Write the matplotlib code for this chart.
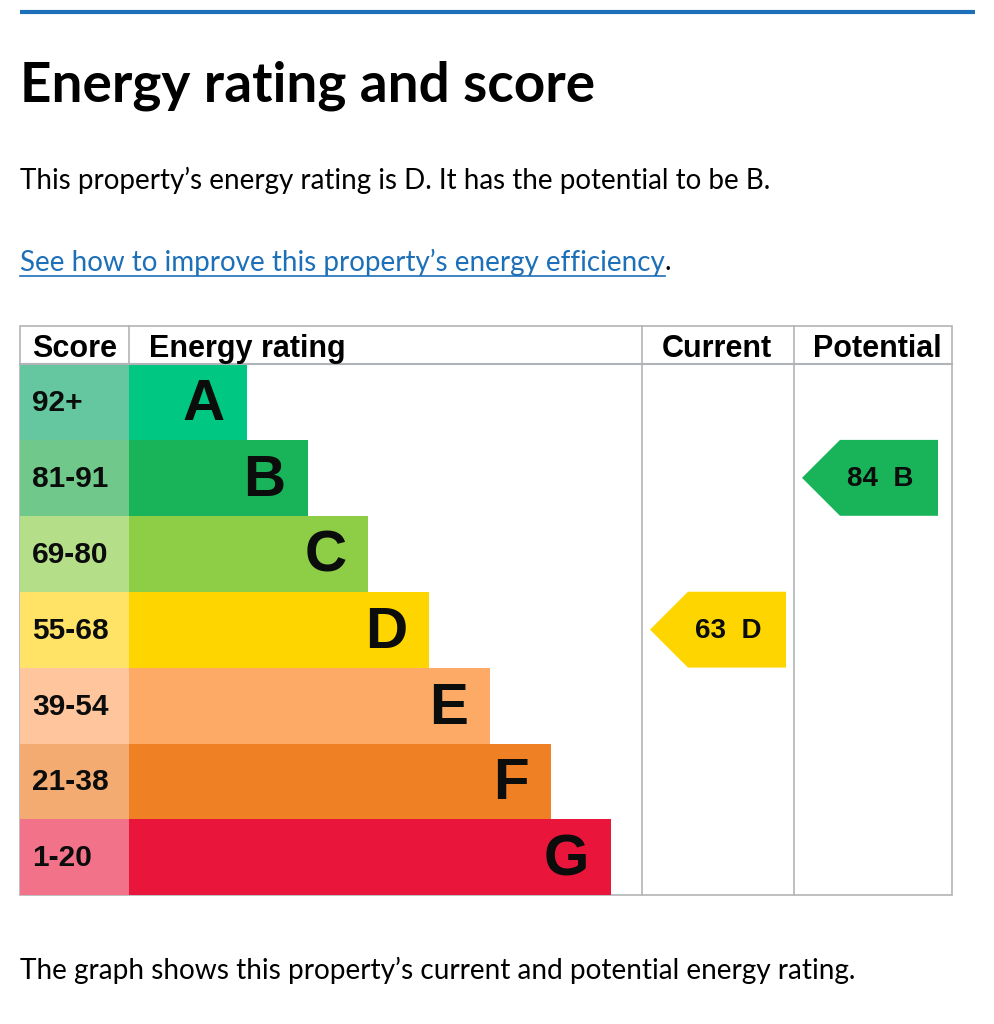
import matplotlib
matplotlib.use("Agg")
import matplotlib.pyplot as plt
from matplotlib.patches import Polygon, Rectangle

BODY_FONT = "Lato"
TABLE_FONT = "Liberation Sans"
LINK_BLUE = "#1d70b8"
GRID = "#b1b4b6"

# chart data
bands = ["A", "B", "C", "D", "E", "F", "G"]
score_ranges = ["92+", "81-91", "69-80", "55-68", "39-54", "21-38", "1-20"]
band_min = [92, 81, 69, 55, 39, 21, 1]
band_colors = ["#00c781", "#19b459", "#8dce46", "#ffd500", "#fcaa65", "#ef8023", "#e9153b"]
score_colors = ["#64c7a0", "#70c98a", "#b5de88", "#ffe366", "#ffc59d", "#f3ab72", "#f27389"]
current_score = 63
potential_score = 84
headers = ["Score", "Energy rating", "Current", "Potential"]

# layout (pixels)
W, H = 994, 1024
tbl_left, tbl_right = 20, 952
tbl_top, head_h = 326, 38
row_h = 75.9
col_x = [20, 129, 642, 794, 952]
bar0, bar_step = 118, 60.7
arrow_tip, arrow_w = 38, 136

fig = plt.figure(figsize=(W / 100, H / 100), dpi=100)
ax = fig.add_axes([0, 0, 1, 1])
ax.set_xlim(0, W)
ax.set_ylim(H, 0)
ax.axis("off")

ax.plot([20, 975], [12, 12], color=LINK_BLUE, lw=3, solid_capstyle="butt")

ax.text(20, 86, "Energy rating and score", fontsize=39.5, fontweight="bold",
        family=BODY_FONT, va="center", ha="left")
ax.text(20, 180, "This property\u2019s energy rating is D. It has the potential to be B.",
        fontsize=20, family=BODY_FONT, va="center")
link = ax.text(20, 262, "See how to improve this property\u2019s energy efficiency",
               fontsize=20, family=BODY_FONT, va="center", color=LINK_BLUE)
ax.text(20, 970, "The graph shows this property\u2019s current and potential energy rating.",
        fontsize=20.2, family=BODY_FONT, va="center")

fig.canvas.draw()
bb = link.get_window_extent()
inv = ax.transData.inverted()
(x0, _), (x1, _) = inv.transform([(bb.x0, bb.y0), (bb.x1, bb.y1)])
ax.plot([x0, x1], [276, 276], color=LINK_BLUE, lw=1.2)
ax.text(x1, 262, ".", fontsize=20, family=BODY_FONT, va="center")

# table
rows_top = tbl_top + head_h
rows_bot = rows_top + row_h * len(bands)
centers = [rows_top + row_h * (i + 0.5) for i in range(len(bands))]
ax.add_patch(Rectangle((tbl_left, tbl_top), tbl_right - tbl_left, rows_bot - tbl_top,
                       fill=False, ec=GRID, lw=1.2))
ax.plot([tbl_left, tbl_right], [rows_top, rows_top], color=GRID, lw=1.5)
ax.plot([col_x[1], col_x[1]], [tbl_top, rows_top], color=GRID, lw=1.2)
for cx in col_x[2:4]:
    ax.plot([cx, cx], [tbl_top, rows_bot], color=GRID, lw=1.2)

head_x = [32, 149, 717, 877]
head_ha = ["left", "left", "center", "center"]
for hx, ha, h in zip(head_x, head_ha, headers):
    ax.text(hx, tbl_top + head_h / 2 + 4, h, fontsize=22, fontweight="bold",
            family=TABLE_FONT, ha=ha, va="center")

widths = [bar0 + bar_step * i for i in range(len(bands))]
ax.barh(centers, [col_x[1] - col_x[0]] * len(bands), left=col_x[0], height=row_h,
        color=score_colors, linewidth=0)
ax.barh(centers, widths, left=col_x[1], height=row_h, color=band_colors, linewidth=0)
for i, (b, r) in enumerate(zip(bands, score_ranges)):
    ax.text(32, centers[i] + 1, r, fontsize=21.5, fontweight="bold", family=TABLE_FONT,
            va="center", ha="left", color="#0b0c0c")
    ax.text(col_x[1] + widths[i] - 22, centers[i] + 3, b, fontsize=42, fontweight="bold",
            family=TABLE_FONT, va="center", ha="right", color="#0b0c0c")


def band_of(score):
    for i, m in enumerate(band_min):
        if score >= m:
            return i
    return len(band_min) - 1


def arrow(col, score):
    i = band_of(score)
    left = col_x[col] + 8
    right = left + arrow_w
    top, bot, cy = centers[i] - row_h / 2, centers[i] + row_h / 2, centers[i]
    pts = [(left, cy), (left + arrow_tip, top), (right, top), (right, bot), (left + arrow_tip, bot)]
    ax.add_patch(Polygon(pts, closed=True, color=band_colors[i], lw=0))
    ax.text((left + arrow_tip + right) / 2 - 9, cy + 1, f"{score}  {bands[i]}", fontsize=20,
            fontweight="bold", family=TABLE_FONT, ha="center", va="center", color="#0b0c0c")


arrow(2, current_score)
arrow(3, potential_score)

fig.savefig("out.png", dpi=100)
